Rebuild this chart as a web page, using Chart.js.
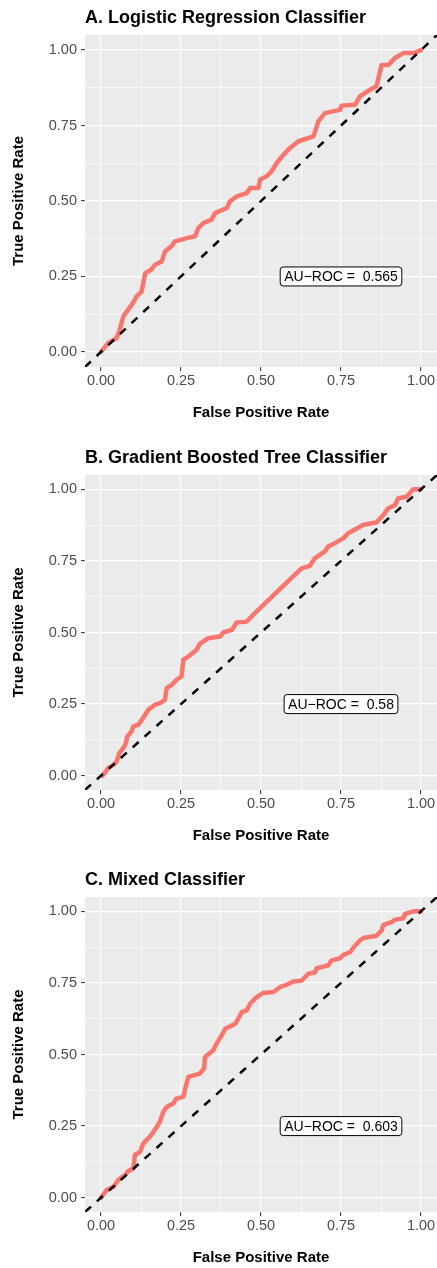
<!DOCTYPE html>
<html lang="en">
<head>
  <meta charset="UTF-8" />
  <title>ROC curves</title>
  <style>
    *{box-sizing:border-box;margin:0;padding:0;}
    body{background:#fff;width:437px;height:1268px;position:relative;overflow:hidden;}
    .panel{position:absolute;left:0;width:437px;}
  </style>
</head>
<body>
  <div class="panel" style="top:0;height:423px"><canvas id="rocA"></canvas></div>
  <div class="panel" style="top:440px;height:406px"><canvas id="rocB"></canvas></div>
  <div class="panel" style="top:862px;height:406px"><canvas id="rocC"></canvas></div>

  <script src="https://cdn.jsdelivr.net/npm/chart.js@4.4.1/dist/chart.umd.min.js"></script>
  <script>
  /* -------- data -------- */
  const titles=['A. Logistic Regression Classifier','B. Gradient Boosted Tree Classifier','C. Mixed Classifier'];
  const aucValues=['0.565','0.58','0.603'];

  const lrFpr=[0,0.023,0.049,0.057,0.07,0.085,0.10,0.111,0.127,0.138,0.158,0.169,0.19,0.2,0.22,0.231,0.252,0.268,0.294,0.304,0.32,0.346,0.356,0.393,0.403,0.424,0.455,0.466,0.492,0.497,0.518,0.533,0.549,0.57,0.59,0.617,0.664,0.679,0.7,0.747,0.752,0.794,0.809,0.841,0.861,0.877,0.898,0.919,0.945,0.976,1];
  const lrTpr=[0,0.03,0.046,0.068,0.118,0.14,0.162,0.184,0.2,0.26,0.273,0.289,0.30,0.333,0.35,0.366,0.372,0.377,0.383,0.41,0.427,0.438,0.46,0.477,0.499,0.515,0.526,0.543,0.543,0.571,0.582,0.598,0.626,0.653,0.675,0.698,0.714,0.764,0.791,0.802,0.816,0.819,0.847,0.869,0.88,0.951,0.951,0.974,0.99,0.99,1];

  const gbFpr=[0.005,0.023,0.039,0.049,0.057,0.07,0.078,0.082,0.096,0.101,0.117,0.138,0.148,0.169,0.184,0.2,0.205,0.221,0.236,0.252,0.257,0.273,0.299,0.309,0.335,0.372,0.382,0.409,0.424,0.455,0.476,0.611,0.627,0.653,0.668,0.7,0.71,0.731,0.757,0.773,0.794,0.82,0.861,0.882,0.898,0.919,0.929,0.955,0.976,1];
  const gbTpr=[0,0.027,0.038,0.05,0.079,0.097,0.114,0.137,0.155,0.172,0.178,0.213,0.23,0.248,0.253,0.265,0.306,0.317,0.335,0.347,0.405,0.416,0.44,0.46,0.48,0.486,0.5,0.509,0.535,0.538,0.562,0.707,0.724,0.733,0.759,0.783,0.80,0.812,0.829,0.847,0.86,0.876,0.884,0.91,0.934,0.945,0.969,0.974,1,1];

  const mixFpr=[0,0.018,0.039,0.054,0.075,0.085,0.101,0.106,0.122,0.132,0.153,0.164,0.174,0.184,0.195,0.205,0.226,0.236,0.257,0.266,0.273,0.309,0.322,0.325,0.351,0.361,0.377,0.388,0.419,0.429,0.44,0.455,0.466,0.481,0.497,0.507,0.539,0.559,0.575,0.601,0.627,0.648,0.669,0.674,0.71,0.72,0.747,0.757,0.778,0.794,0.809,0.82,0.861,0.877,0.882,0.908,0.919,0.945,0.95,0.976,1];
  const mixTpr=[0,0.027,0.038,0.062,0.079,0.093,0.102,0.149,0.16,0.189,0.213,0.23,0.247,0.265,0.30,0.317,0.329,0.346,0.352,0.393,0.422,0.433,0.451,0.491,0.515,0.538,0.567,0.59,0.607,0.625,0.648,0.654,0.677,0.695,0.708,0.715,0.718,0.735,0.741,0.755,0.758,0.782,0.787,0.801,0.811,0.828,0.836,0.848,0.857,0.88,0.898,0.907,0.915,0.933,0.952,0.962,0.971,0.976,0.991,1,1];

  const axisRange=[-0.05,1.05];            // limits of both axes, also ends of the chance line
  const gridValues=[0,0.125,0.25,0.375,0.5,0.625,0.75,0.875,1];
  const tickLabels=['0.00','0.25','0.50','0.75','1.00'];
  const labelPos=[0.75,0.25];             // where the AU-ROC box sits

  /* -------- style -------- */
  const FONT='"Liberation Sans", Arial, Helvetica, sans-serif';
  const RED='#F8766D';
  const isMajor=v=>Math.abs(v*4-Math.round(v*4))<1e-9;

  // grey panel background
  const panelBg={id:'panelBg',beforeDraw(chart){
    const {ctx,chartArea:a}=chart;
    ctx.save();ctx.fillStyle='#EBEBEB';ctx.fillRect(a.left,a.top,a.width,a.height);ctx.restore();
  }};

  // boxed AU-ROC label
  const aucLabel={id:'aucLabel',afterDatasetsDraw(chart,args,opts){
    const {ctx,scales:{x,y}}=chart;
    const cx=x.getPixelForValue(labelPos[0]),cy=y.getPixelForValue(labelPos[1]);
    ctx.save();
    ctx.font='14px '+FONT;
    const w=ctx.measureText(opts.text).width+8,h=19;
    ctx.beginPath();
    ctx.roundRect(cx-w/2,cy-h/2,w,h,3);
    ctx.fillStyle='#fff';ctx.fill();
    ctx.lineWidth=1;ctx.strokeStyle='#000';ctx.stroke();
    ctx.fillStyle='#000';ctx.textAlign='center';ctx.textBaseline='middle';
    ctx.fillText(opts.text,cx,cy+1);
    ctx.restore();
  }};

  function axis(title,isX){
    return {
      type:'linear',min:axisRange[0],max:axisRange[1],
      border:{display:false},
      grid:{
        color:'#fff',
        lineWidth:c=>isMajor(c.tick.value)?1.2:0.6,
        tickColor:c=>isMajor(c.tick.value)?'#333':'rgba(0,0,0,0)',
        tickWidth:1,tickLength:4
      },
      ticks:{
        autoSkip:false,maxRotation:0,color:'#4D4D4D',padding:isX?1:4,
        font:{family:FONT,size:14.5},
        callback:v=>isMajor(v)?tickLabels[Math.round(v*4)]:''
      },
      afterBuildTicks:s=>{s.ticks=gridValues.map(v=>({value:v}));},
      afterFit:s=>{
        if(isX){s.height=56;s.paddingLeft=0;s.paddingRight=0;}
        else{s.width=85;s.paddingTop=0;s.paddingBottom=0;}
      },
      title:{display:true,text:title,color:'#000',font:{family:FONT,size:15,weight:'bold'},
        padding:isX?{top:0,bottom:1}:{top:10,bottom:0}}
    };
  }

  function draw(id,idx,fpr,tpr){
    new Chart(document.getElementById(id),{
      type:'line',
      data:{datasets:[
        {data:axisRange.map(v=>({x:v,y:v})),borderColor:'#000',borderWidth:2.5,borderDash:[8,8],pointRadius:0},
        {data:fpr.map((v,i)=>({x:v,y:tpr[i]})),borderColor:RED,borderWidth:4.5,pointRadius:0,
          borderJoinStyle:'round',borderCapStyle:'round',tension:0}
      ]},
      options:{
        responsive:true,maintainAspectRatio:false,animation:false,
        layout:{padding:0},
        scales:{x:axis('False Positive Rate',true),y:axis('True Positive Rate',false)},
        plugins:{
          legend:{display:false},tooltip:{enabled:false},
          title:{display:true,text:titles[idx],align:'start',fullSize:false,color:'#000',
            font:{family:FONT,size:18,weight:'bold',lineHeight:'22px'},padding:{top:7,bottom:6}},
          aucLabel:{text:'AU\u2212ROC =  '+aucValues[idx]}
        }
      },
      plugins:[panelBg,aucLabel]
    });
  }

  draw('rocA',0,lrFpr,lrTpr);
  draw('rocB',1,gbFpr,gbTpr);
  draw('rocC',2,mixFpr,mixTpr);
  </script>
</body>
</html>
